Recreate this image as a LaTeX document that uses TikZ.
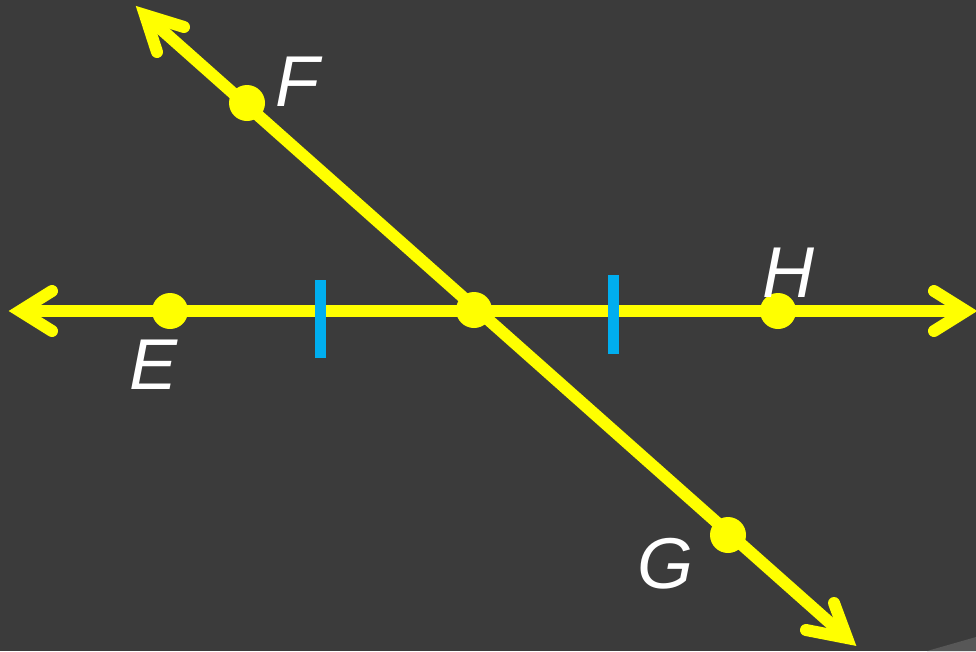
\documentclass[tikz,border=0pt]{standalone}
\usepackage{fontspec}
\setmainfont{Liberation Sans}
\definecolor{bg}{HTML}{3B3B3B}
\definecolor{corner}{HTML}{575757}
\definecolor{ylw}{HTML}{FFFF00}
\definecolor{tickblue}{HTML}{00AEEF}
\tikzset{
  shaft/.style={draw=ylw, line width=12pt, line cap=butt},
  barb/.style={draw=ylw, line width=12pt, line cap=round, line join=miter, miter limit=10},
  dot/.style={circle, fill=ylw, minimum size=36pt, inner sep=0pt},
  tickmark/.style={draw=tickblue, line width=11pt},
  lbl/.style={text=white, font=\fontsize{72}{72}\selectfont\itshape, anchor=base, inner sep=0pt}
}
\begin{document}
\begin{tikzpicture}[x=1pt,y=-1pt]
\fill[bg] (0,0) rectangle (976,651);
\useasboundingbox (0,0) rectangle (976,651);
\fill[corner] (927,651) -- (976,637) -- (976,651) -- cycle;
% coordinates
\coordinate (Ltip) at (20,311);
\coordinate (Rtip) at (966,311);
\coordinate (Ttip) at (145,15);
\coordinate (Btip) at (847,638);
% lines
\draw[shaft] (Ltip) -- (Rtip);
\draw[shaft] (Ttip) -- (Btip);
% arrowheads
\draw[barb] (52,291) -- (Ltip) -- (52,331);
\draw[barb] (934,291) -- (Rtip) -- (934,331);
\draw[barb] (184,27) -- (Ttip) -- (157,52);
\draw[barb] (834,603) -- (Btip) -- (806,630);
% ticks
\coordinate (t1a) at (320,280); \coordinate (t1b) at (320,358);
\coordinate (t2a) at (613,275); \coordinate (t2b) at (613,354);
\draw[tickmark] (t1a) -- (t1b);
\draw[tickmark] (t2a) -- (t2b);
% dots
\node[dot] (E) at (170,311) {};
\node[dot] (C) at (474,310) {};
\node[dot] (H) at (778,311) {};
\node[dot] (F) at (247,103) {};
\node[dot] (G) at (728,535) {};
% labels
\node[lbl] (lF) at (297,106) {F};
\node[lbl] (lE) at (154,389) {E};
\node[lbl] (lH) at (788,297) {H};
\node[lbl] (lG) at (665,588) {G};
\end{tikzpicture}
\end{document}
